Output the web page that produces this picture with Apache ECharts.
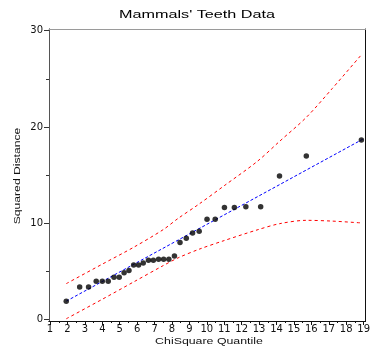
<!DOCTYPE html>
<html>
<head>
<meta charset="utf-8">
<title>Mammals' Teeth Data</title>
<script src="https://cdn.jsdelivr.net/npm/echarts@6/dist/echarts.min.js"></script>
<style>
  html, body { margin: 0; padding: 0; background: #fff; }
  #chart { width: 373px; height: 347px; }
</style>
</head>
<body>
<div id="chart"></div>
<script>
// chi-square quantiles vs squared distances (32 obs)
var chiQuantile = [1.93, 2.70, 3.21, 3.65, 4.00, 4.34, 4.67, 4.97, 5.25, 5.53, 5.80, 6.08,
    6.35, 6.65, 6.93, 7.23, 7.52, 7.82, 8.14, 8.46, 8.82, 9.18, 9.56, 10.01,
    10.48, 11.01, 11.58, 12.24, 13.09, 14.17, 15.71, 18.87];
var sqDistance = [1.88, 3.36, 3.36, 3.96, 3.96, 3.96, 4.38, 4.38, 4.86, 5.10, 5.66, 5.66,
    5.86, 6.15, 6.15, 6.25, 6.25, 6.25, 6.59, 7.99, 8.44, 8.99, 9.17, 10.42,
    10.42, 11.64, 11.64, 11.70, 11.70, 14.90, 16.98, 18.65];

// fitted reference line
var fitX = [1.93, 19.0];
var fitY = [1.90, 18.78];

// confidence band
var bandX = [1.93, 4.0, 5.8, 7.5, 8.35, 9.56, 11.0, 12.88, 14.17, 15.71, 17.2, 18.87];
var bandUpper = [3.72, 5.75, 7.5, 9.34, 10.5, 12.0, 13.9, 16.4, 18.5, 21.0, 24.0, 27.5];
var bandLower = [0.07, 2.1, 3.9, 5.6, 6.4, 7.3, 8.2, 9.3, 9.95, 10.3, 10.22, 10.03];

var xTicks = [1, 2, 3, 4, 5, 6, 7, 8, 9, 10, 11, 12, 13, 14, 15, 16, 17, 18, 19];
var xMinorTicks = [1.5, 2.5, 3.5, 4.5, 5.5, 6.5, 7.5, 8.5, 9.5, 10.5, 11.5, 12.5, 13.5, 14.5, 15.5, 16.5, 17.5, 18.5];
var yTicks = [0, 10, 20, 30];
var yMinorTicks = [5, 15, 25];

function pairs(xs, ys) {
    return xs.map(function (x, i) { return [x, ys[i]]; });
}

var X_MIN = 0.94, X_MAX = 19.11;
var Y_MIN = -0.16, Y_MAX = 30.18;
var labelFont = 'DejaVu Sans';

var myChart = echarts.init(document.getElementById('chart'));

var option = {
    backgroundColor: '#ffffff',
    animation: false,
    grid: { left: 49, right: 3, top: 29, bottom: 26 },
    graphic: [
        {   // title
            type: 'text', x: 197, y: 15, scaleX: 1.62,
            style: { text: "Mammals' Teeth Data", fontSize: 10, fontFamily: 'Liberation Sans',
                fill: '#000', textAlign: 'center', textVerticalAlign: 'middle', align: 'center', verticalAlign: 'middle' }
        },
        {   // x name
            type: 'text', x: 209, y: 341, scaleX: 1.3,
            style: { text: 'ChiSquare Quantile', fontSize: 9.5, fontFamily: 'Liberation Sans',
                fill: '#111', textAlign: 'center', textVerticalAlign: 'middle', align: 'center', verticalAlign: 'middle' }
        },
        {   // y name
            type: 'text', x: 17, y: 176, scaleX: 1.28, rotation: Math.PI / 2,
            style: { text: 'Squared Distance', fontSize: 9.5, fontFamily: 'Liberation Sans',
                fill: '#111', textAlign: 'center', textVerticalAlign: 'middle', align: 'center', verticalAlign: 'middle' }
        }
    ],
    xAxis: [
        {
            type: 'value', min: X_MIN, max: X_MAX, position: 'bottom',
            axisLine: { onZero: false, lineStyle: { color: '#111', width: 1 } },
            axisTick: { customValues: xTicks, length: 4, lineStyle: { color: '#111' } },
            axisLabel: { customValues: xTicks, margin: 3, fontSize: 10, fontFamily: labelFont, color: '#111' },
            splitLine: { show: false }
        },
        {   // half-unit ticks
            type: 'value', min: X_MIN, max: X_MAX, position: 'bottom',
            axisLine: { onZero: false, lineStyle: { color: '#111' } },
            axisTick: { customValues: xMinorTicks, length: 2, lineStyle: { color: '#111' } },
            axisLabel: { show: false },
            splitLine: { show: false }
        },
        {   // frame top
            type: 'value', min: X_MIN, max: X_MAX, position: 'top',
            axisLine: { onZero: false, lineStyle: { color: '#9a9a9a' } },
            axisTick: { show: false }, axisLabel: { show: false }, splitLine: { show: false }
        }
    ],
    yAxis: [
        {
            type: 'value', min: Y_MIN, max: Y_MAX, position: 'left',
            axisLine: { onZero: false, show: true, lineStyle: { color: '#555', width: 1 } },
            axisTick: { show: true, customValues: yTicks, length: 5, lineStyle: { color: '#333' } },
            axisLabel: { customValues: yTicks, margin: 6, fontSize: 10, fontFamily: labelFont, color: '#111' },
            splitLine: { show: false }
        },
        {   // minor ticks
            type: 'value', min: Y_MIN, max: Y_MAX, position: 'left',
            axisLine: { onZero: false, show: true, lineStyle: { color: '#555' } },
            axisTick: { show: true, customValues: yMinorTicks, length: 3, lineStyle: { color: '#333' } },
            axisLabel: { show: false },
            splitLine: { show: false }
        },
        {   // frame right
            type: 'value', min: Y_MIN, max: Y_MAX, position: 'right',
            axisLine: { onZero: false, show: true, lineStyle: { color: '#111' } },
            axisTick: { show: false }, axisLabel: { show: false }, splitLine: { show: false }
        }
    ],
    series: [
        {
            type: 'line', data: pairs(bandX, bandUpper), smooth: 0.3, symbol: 'none',
            lineStyle: { color: '#ff0000', width: 1, type: [3, 3] }, silent: true
        },
        {
            type: 'line', data: pairs(bandX, bandLower), smooth: 0.3, symbol: 'none',
            lineStyle: { color: '#ff0000', width: 1, type: [3, 3] }, silent: true
        },
        {
            type: 'line', data: pairs(fitX, fitY), symbol: 'none',
            lineStyle: { color: '#0000ff', width: 1, type: [3, 2] }, silent: true
        },
        {
            type: 'scatter', data: pairs(chiQuantile, sqDistance), symbol: 'circle', symbolSize: 5.5,
            itemStyle: { color: '#000000' }, z: 5
        }
    ]
};

myChart.setOption(option);
</script>
</body>
</html>
